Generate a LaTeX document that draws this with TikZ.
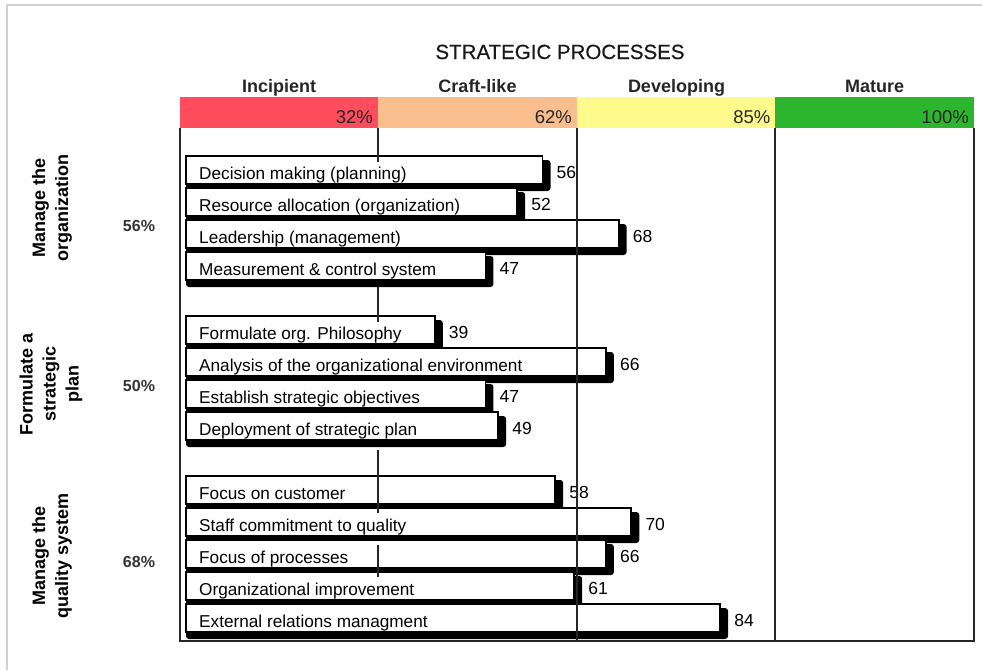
\documentclass[tikz,border=0pt]{standalone}
\usepackage{fontspec}
\setmainfont{Liberation Sans}
\newfontfamily\titlefont[FakeBold=0.6]{Liberation Sans}
\definecolor{cred}{RGB}{255,77,94}
\definecolor{corange}{RGB}{250,190,142}
\definecolor{cyellow}{RGB}{255,250,140}
\definecolor{cgreen}{RGB}{45,182,45}
\begin{document}
\begin{tikzpicture}[x=1pt,y=-1pt,
  barbox/.style={draw=black, line width=1.9pt, fill=white, anchor=north west,
    minimum height=28pt, inner sep=0pt, outer sep=0pt},
  bartext/.style={anchor=base west, inner sep=0pt, font=\fontsize{17.2}{20}\selectfont},
  valtext/.style={anchor=base west, inner sep=0pt, font=\fontsize{17.5}{20}\selectfont},
  hdrlabel/.style={anchor=base, inner sep=0pt, font=\fontsize{18}{20}\selectfont\bfseries, text=black!85},
  hdrpct/.style={anchor=base east, inner sep=0pt, font=\fontsize{18.5}{21}\selectfont, text=black!85},
  grouplabel/.style={rotate=90, align=center, inner sep=0pt, font=\fontsize{18}{23}\selectfont\bfseries},
  grouppct/.style={inner sep=0pt, font=\fontsize{16}{19}\selectfont\bfseries, text=black!80},
  gridline/.style={draw=black!85, line width=1.3pt}
]
\useasboundingbox (0,0) rectangle (982,670);
% outer frame
\draw[black!18, line width=1.2pt] (7,670) -- (7,5) -- (982,5);
% title
\node[anchor=base, inner sep=0pt, font=\fontsize{20.5}{24}\titlefont, text=black!90] (title) at (560,59) {STRATEGIC PROCESSES};
% header colour bar
\fill[cred] (180,97) rectangle (378,128);
\fill[corange] (378,97) rectangle (577,128);
\fill[cyellow] (577,97) rectangle (775,128);
\fill[cgreen] (775,97) rectangle (974,128);
\node[hdrlabel] (hinc) at (279,92) {Incipient};
\node[hdrlabel] (hcra) at (477.5,92) {Craft-like};
\node[hdrlabel] (hdev) at (676.5,92) {Developing};
\node[hdrlabel] (hmat) at (874.5,92) {Mature};
\node[hdrpct] (p32) at (373,123) {32\%};
\node[hdrpct] (p62) at (572,123) {62\%};
\node[hdrpct] (p85) at (770.5,123) {85\%};
\node[hdrpct] (p100) at (969,123) {100\%};
% grid (behind bars)
\draw[gridline] (180,128) -- (180,641) -- (974,641) -- (974,128);
\draw[gridline] (775,128) -- (775,641);
% bars
\foreach \k/\v/\t in {0/56/Decision making (planning),
  1/52/Resource allocation (organization),
  2/68/Leadership (management),
  3/47/Measurement \& control system,
  5/39/Formulate org. Philosophy,
  6/66/Analysis of the organizational environment,
  7/47/Establish strategic objectives,
  8/49/Deployment of strategic plan,
  10/58/Focus on customer,
  11/70/Staff commitment to quality,
  12/66/Focus of processes,
  13/61/Organizational improvement,
  14/84/External relations managment}{
  \pgfmathsetmacro\T{156+32*\k}
  \pgfmathsetmacro\W{1.5+6.34*\v}
  \fill[black, rounded corners=3pt] (186,\T+4) rectangle (186+\W+8,\T+35);
  \node[barbox, minimum width=\W pt] (bar\k) at (186,\T) {};
  \node[bartext] (lab\k) at (199,\T+23) {\t};
  \node[valtext] (val\k) at (186+\W+14,\T+22) {\v};
}
% grid lines drawn over the bars
\draw[gridline] (577,128) -- (577,641);
\draw[gridline] (378,128) -- (378,162);
\draw[gridline] (378,287) -- (378,322);
\draw[gridline] (378,450) -- (378,513);
\draw[gridline] (378,545) -- (378,577);
% group labels
\node[grouplabel] (g1) at (52,208) {Manage the\\organization};
\node[grouplabel] (g2) at (51,384) {Formulate a\\strategic\\plan};
\node[grouplabel] (g3) at (52,556) {Manage the\\quality system};
\node[grouppct] (gp1) at (139,226) {56\%};
\node[grouppct] (gp2) at (139,386) {50\%};
\node[grouppct] (gp3) at (139,562) {68\%};
\end{tikzpicture}
\end{document}
